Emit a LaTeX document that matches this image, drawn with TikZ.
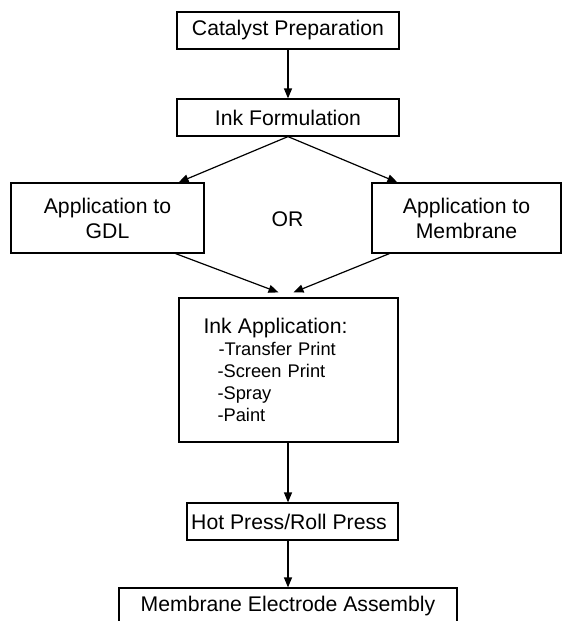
\documentclass[tikz,border=0pt]{standalone}
\usepackage{fontspec}
\setmainfont{Liberation Sans}
\usetikzlibrary{arrows.meta}
\tikzset{
  box/.style={draw=black, line width=1.2pt, fill=white, inner sep=0pt, font=\fontsize{21.2}{25}\selectfont, align=center},
  arr/.style={draw=black, line width=1.2pt, -{Triangle[length=10pt,width=8pt]}},
  lbl/.style={inner sep=0pt, font=\fontsize{21.2}{25}\selectfont}
}
\begin{document}
\begin{tikzpicture}[x=1pt,y=-1pt]
\useasboundingbox (0,0) rectangle (562,621);
\clip (0,0) rectangle (562,621);
\node[box, minimum width=222pt, minimum height=37pt] (cat) at (288,30.5) {Catalyst Preparation};
\node[box, minimum width=222pt, minimum height=37pt] (ink) at (288,117.5) {Ink Formulation};
\node[box, minimum width=193pt, minimum height=70pt] (gdl) at (107.5,218) {Application to\\GDL};
\node[box, minimum width=189pt, minimum height=70pt] (mem) at (466.5,218) {Application to\\Membrane};
\node[lbl] (or) at (287.5,219.5) {OR};
\node[box, minimum width=219pt, minimum height=144pt, text width=170pt, inner xsep=24.5pt, inner ysep=0pt, align=left, font=\fontsize{18.3}{22}\selectfont] (app) at (288.5,370)
  {{\fontsize{21.2}{22}\selectfont Ink Application:}\\
   \hspace*{15pt}-Transfer Print\\
   \hspace*{14pt}-Screen Print\\
   \hspace*{14pt}-Spray\\
   \hspace*{14pt}-Paint};
\node[box, minimum width=211pt, minimum height=37pt] (hot) at (292.5,521.5) {\hspace*{-7pt}Hot Press/Roll Press};
\node[box, minimum width=338pt, minimum height=37pt] (mea) at (288,606.5) {Membrane Electrode Assembly};
\draw[arr] (cat.south) -- (ink.north);
\draw[arr] (ink.south) -- ([xshift=-26pt]gdl.north east);
\draw[arr] (ink.south) -- ([xshift=26pt]mem.north west);
\draw[arr] ([xshift=-29pt]gdl.south east) -- ([xshift=-10pt,yshift=5pt]app.north);
\draw[arr] ([xshift=18pt]mem.south west) -- ([xshift=5pt,yshift=5pt]app.north);
\draw[arr] ([xshift=-0.5pt]app.south) -- ([xshift=-4.5pt]hot.north);
\draw[arr] ([xshift=-4.5pt]hot.south) -- (mea.north);
\end{tikzpicture}
\end{document}
